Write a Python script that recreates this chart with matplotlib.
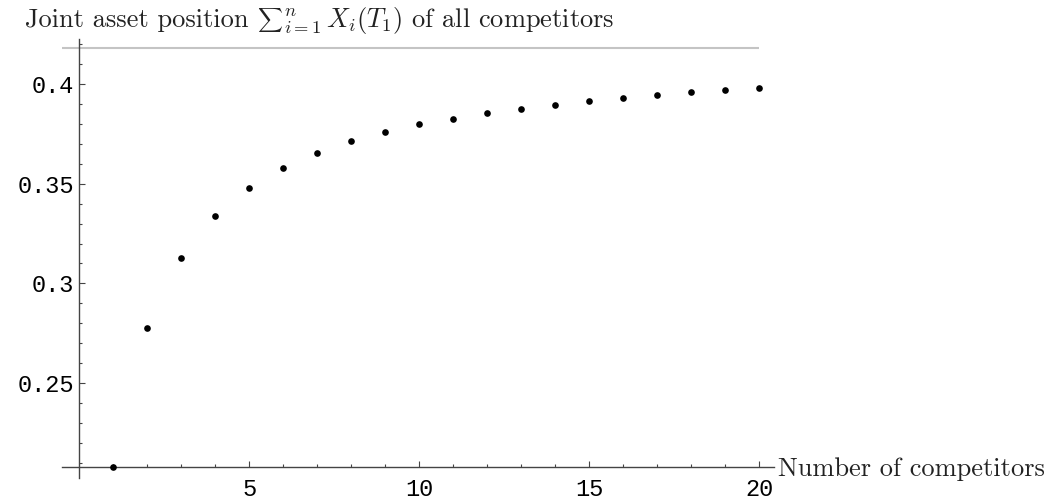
import numpy as np
import matplotlib
matplotlib.use("Agg")
import matplotlib.pyplot as plt
from matplotlib.transforms import offset_copy

plt.rcParams['mathtext.fontset'] = 'cm'

# values
competitors = [1, 2, 3, 4, 5, 6, 7, 8, 9, 10,
               11, 12, 13, 14, 15, 16, 17, 18, 19, 20]
joint_position = [0.2079, 0.2779, 0.3128, 0.3337, 0.3480, 0.3578, 0.3653, 0.3712, 0.3759, 0.3798,
                  0.3826, 0.3855, 0.3876, 0.3896, 0.3915, 0.3930, 0.3943, 0.3957, 0.3967, 0.3977]
limit_value = 0.4179
y_ticks = [0.25, 0.3, 0.35, 0.4]
y_labels = ["0.25", "0.3", "0.35", "0.4"]
x_ticks = [5, 10, 15, 20]
x_labels = ["5", "10", "15", "20"]

fig = plt.figure(figsize=(10.52, 5), dpi=100)
ax = fig.add_axes([62/1052, 1 - 478/500, (774 - 62)/1052, (478 - 39)/500])

axis_col = '#444444'
ax.set_xlim(-0.51, 20.43)
ax.set_ylim(0.2025, 0.4225)
ax.spines['left'].set_position(('data', 0))
ax.spines['bottom'].set_position(('data', joint_position[0]))
for s in ['top', 'right']:
    ax.spines[s].set_visible(False)
for s in ['left', 'bottom']:
    ax.spines[s].set_color(axis_col)
    ax.spines[s].set_linewidth(1.0)

ax.hlines(limit_value, -0.55, 20, color='#c4c4c4', lw=1.5, zorder=1)
ax.plot(competitors, joint_position, 'o', color='black', ms=4.8, mec='none',
        clip_on=False, zorder=3)

ax.set_xticks(x_ticks)
ax.set_xticklabels(x_labels)
ax.set_xticks(np.arange(1, 21), minor=True)
ax.set_yticks(y_ticks)
ax.set_yticklabels(y_labels)
ax.set_yticks(np.arange(0.21, 0.4201, 0.01), minor=True)
ax.tick_params(which='both', direction='in', color=axis_col, width=0.8)
ax.tick_params(which='major', length=4.5)
ax.tick_params(which='minor', length=2.5)
ax.tick_params(axis='y', which='major', pad=4)
ax.tick_params(axis='x', which='major', pad=8)
for lab in ax.get_xticklabels() + ax.get_yticklabels():
    lab.set_fontfamily('Liberation Mono')
    lab.set_fontsize(17)
    lab.set_color('black')

# title in pieces so the sum sign can be drawn at text size
txt_kw = dict(family='cmr10', color='#222222', ha='left', va='baseline')
renderer = fig.canvas.get_renderer()
t1 = fig.text(25/1052, 1 - 27/500, "Joint asset position ", fontsize=19, **txt_kw)
x1 = t1.get_window_extent(renderer).x1
t2 = fig.text(x1/1052, 1 - 26/500, r"$\sum$", fontsize=12.5, **txt_kw)
x2 = t2.get_window_extent(renderer).x1
fig.text(x2/1052, 1 - 27/500, r"${}_{i=1}^{n}\,X_i(T_1)$ of all competitors",
         fontsize=19, **txt_kw)

fig.text(778/1052, 1 - 476/500, "Number of competitors", fontsize=19, **txt_kw)

fig.savefig('out.png', dpi=100)
